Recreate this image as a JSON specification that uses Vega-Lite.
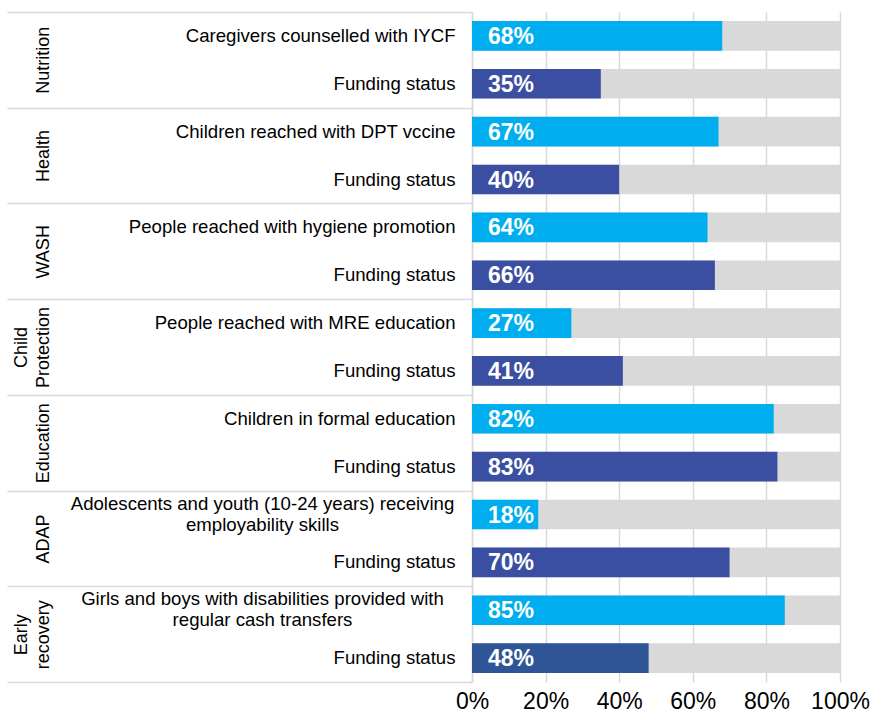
{
  "$schema": "https://vega.github.io/schema/vega-lite/v6.json",
  "width": 368,
  "height": 670,
  "autosize": {"type": "none"},
  "padding": {"left": 472, "top": 12, "right": 30, "bottom": 37},
  "background": "white",
  "config": {
    "view": {"stroke": null},
    "font": "Liberation Sans",
    "axis": {"labelColor": "#000000", "title": null}
  },
  "data": {
    "values": [
      {"id": "Nutrition: Caregivers counselled with IYCF", "group": "Nutrition", "kind": "Indicator", "value": 0.68},
      {"id": "Nutrition: Funding status", "group": "Nutrition", "kind": "Funding status", "value": 0.35},
      {"id": "Health: Children reached with DPT vccine", "group": "Health", "kind": "Indicator", "value": 0.67},
      {"id": "Health: Funding status", "group": "Health", "kind": "Funding status", "value": 0.40},
      {"id": "WASH: People reached with hygiene promotion", "group": "WASH", "kind": "Indicator", "value": 0.64},
      {"id": "WASH: Funding status", "group": "WASH", "kind": "Funding status", "value": 0.66},
      {"id": "Child Protection: People reached with MRE education", "group": "Child Protection", "kind": "Indicator", "value": 0.27},
      {"id": "Child Protection: Funding status", "group": "Child Protection", "kind": "Funding status", "value": 0.41},
      {"id": "Education: Children in formal education", "group": "Education", "kind": "Indicator", "value": 0.82},
      {"id": "Education: Funding status", "group": "Education", "kind": "Funding status", "value": 0.83},
      {"id": "ADAP: Adolescents and youth (10-24 years) receiving employability skills", "group": "ADAP", "kind": "Indicator", "value": 0.18},
      {"id": "ADAP: Funding status", "group": "ADAP", "kind": "Funding status", "value": 0.70},
      {"id": "Early recovery: Girls and boys with disabilities provided with regular cash transfers", "group": "Early recovery", "kind": "Indicator", "value": 0.85},
      {"id": "Early recovery: Funding status", "group": "Early recovery", "kind": "Funding status", "value": 0.48}
    ]
  },
  "layer": [
    {
      "encoding": {
        "y": {
          "field": "id",
          "type": "nominal",
          "sort": null,
          "scale": {"paddingInner": 0.38, "paddingOuter": 0.19},
          "axis": {
            "orient": "left",
            "ticks": false,
            "grid": false,
            "domain": true,
            "domainColor": "#d9d9d9",
            "domainWidth": 1.5,
            "labelFontSize": 18.6,
            "labelLimit": 0,
            "labelPadding": {"condition": {"test": "indexof(datum.value, 'receiving') >= 0 || indexof(datum.value, 'regular') >= 0", "value": 210}, "value": 17},
            "labelAlign": {"condition": {"test": "indexof(datum.value, 'receiving') >= 0 || indexof(datum.value, 'regular') >= 0", "value": "center"}, "value": "right"},
            "labelBaseline": {"condition": {"test": "indexof(datum.value, 'receiving') >= 0 || indexof(datum.value, 'regular') >= 0", "value": "line-bottom"}, "value": "middle"},
            "labelLineHeight": 21,
            "labelExpr": "split(replace(replace(substring(datum.value, indexof(datum.value, ': ') + 2), 'receiving ', 'receiving|'), 'with regular', 'with|regular'), '|')"
          }
        }
      },
      "layer": [
        {
          "mark": {"type": "bar", "color": "#d9d9d9"},
          "encoding": {
            "x": {
              "datum": 0,
              "type": "quantitative",
              "scale": {"domain": [0, 1], "nice": false},
              "axis": {
                "values": [0, 0.2, 0.4, 0.6, 0.8, 1],
                "format": ".0%",
                "labelFontSize": 23,
                "labelPadding": 8,
                "ticks": false,
                "domain": false,
                "grid": true,
                "gridColor": "#d9d9d9",
                "gridWidth": 1.5,
                "labelFlush": false,
                "labelBound": false
              }
            },
            "x2": {"datum": 1}
          }
        },
        {
          "mark": {"type": "bar"},
          "encoding": {
            "x": {"field": "value", "type": "quantitative"},
            "color": {
              "condition": {"test": "datum.group === 'Early recovery' && datum.kind === 'Funding status'", "value": "#2f5597"},
              "field": "kind",
              "type": "nominal",
              "scale": {"domain": ["Indicator", "Funding status"], "range": ["#00aeef", "#3b4fa2"]},
              "legend": null
            }
          }
        },
        {
          "mark": {"type": "text", "align": "left", "baseline": "middle", "dx": 16, "dy": 1, "color": "white", "fontWeight": "bold", "fontSize": 23},
          "encoding": {
            "x": {"datum": 0, "type": "quantitative"},
            "text": {"field": "value", "type": "quantitative", "format": ".0%"}
          }
        }
      ]
    },
    {
      "mark": {"type": "bar", "opacity": 0},
      "encoding": {
        "x": {"datum": 0, "type": "quantitative"},
        "y": {
          "field": "group",
          "type": "nominal",
          "sort": null,
          "scale": {"type": "band", "paddingInner": 0, "paddingOuter": 0},
          "axis": {
            "orient": "left",
            "domain": false,
            "grid": false,
            "ticks": true,
            "tickBand": "extent",
            "tickSize": 465,
            "tickColor": "#d9d9d9",
            "tickWidth": 1.5,
            "labelAngle": -90,
            "labelAlign": "center",
            "labelBaseline": {"condition": {"test": "isString(datum.value) && indexof(datum.value, ' ') >= 0", "value": "line-bottom"}, "value": "line-top"},
            "labelPadding": -25,
            "labelFontSize": 18,
            "labelLineHeight": 22,
            "labelLimit": 0,
            "labelOverlap": false,
            "labelExpr": "isString(datum.value) ? split(datum.value, ' ') : ''"
          }
        }
      }
    }
  ],
  "resolve": {"scale": {"y": "independent"}, "axis": {"y": "independent"}}
}
